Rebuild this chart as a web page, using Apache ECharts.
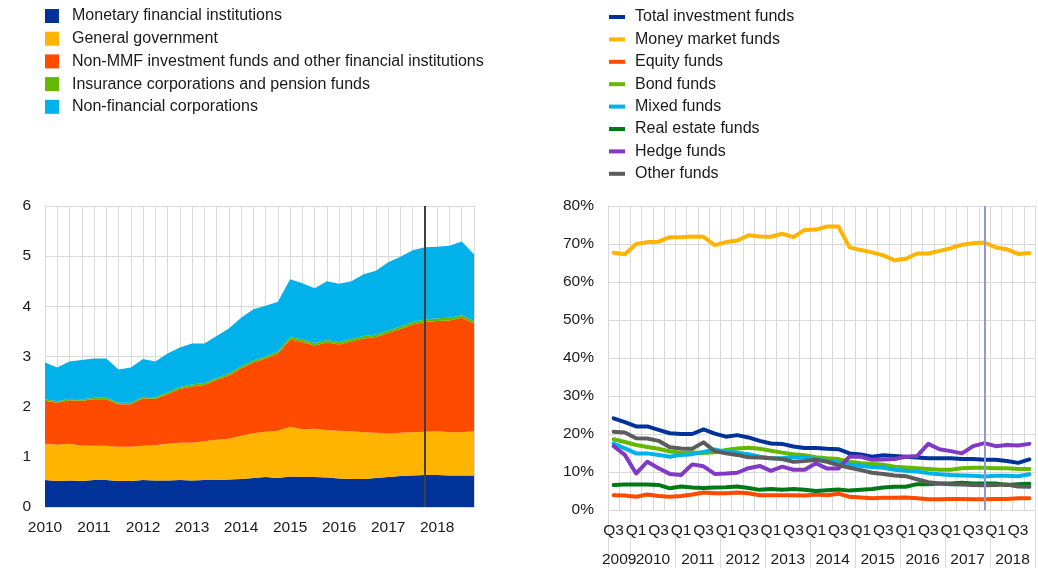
<!DOCTYPE html>
<html>
<head>
<meta charset="utf-8">
<script src="https://cdn.jsdelivr.net/npm/echarts@6/dist/echarts.min.js"></script>
<style>
html,body{margin:0;padding:0;background:#fff;}
#chart{width:1038px;height:568px;}
</style>
</head>
<body>
<div id="chart"></div>
<script>
// ---------- Left chart: holders (EUR trillions) ----------
const leftCategories = [
  '2010 Q1','2010 Q2','2010 Q3','2010 Q4','2011 Q1','2011 Q2','2011 Q3','2011 Q4',
  '2012 Q1','2012 Q2','2012 Q3','2012 Q4','2013 Q1','2013 Q2','2013 Q3','2013 Q4',
  '2014 Q1','2014 Q2','2014 Q3','2014 Q4','2015 Q1','2015 Q2','2015 Q3','2015 Q4',
  '2016 Q1','2016 Q2','2016 Q3','2016 Q4','2017 Q1','2017 Q2','2017 Q3','2017 Q4',
  '2018 Q1','2018 Q2','2018 Q3','2018 Q4'
];
const leftMarker = '2017 Q4';
const mfi = [0.54,0.52,0.53,0.52,0.54,0.54,0.52,0.52,0.54,0.53,0.53,0.54,0.53,0.54,0.54,0.55,0.56,0.58,
             0.60,0.58,0.61,0.60,0.60,0.59,0.57,0.56,0.56,0.58,0.60,0.62,0.63,0.64,0.64,0.63,0.63,0.63];
const gov = [0.72,0.72,0.73,0.70,0.68,0.68,0.68,0.68,0.68,0.70,0.73,0.74,0.75,0.77,0.80,0.81,0.86,0.89,
             0.90,0.94,0.99,0.95,0.96,0.94,0.95,0.95,0.93,0.90,0.86,0.86,0.86,0.86,0.87,0.86,0.86,0.88];
const nonMmf = [0.86,0.84,0.87,0.90,0.93,0.93,0.85,0.85,0.95,0.93,0.99,1.07,1.12,1.12,1.19,1.26,1.34,1.41,
                1.46,1.54,1.74,1.74,1.66,1.75,1.72,1.79,1.87,1.91,2.01,2.07,2.15,2.19,2.20,2.23,2.28,2.15];
const insurance = [0.03,0.03,0.03,0.03,0.03,0.03,0.03,0.03,0.03,0.03,0.03,0.04,0.04,0.04,0.04,0.04,0.04,0.04,
                   0.04,0.04,0.05,0.05,0.05,0.05,0.05,0.05,0.05,0.05,0.05,0.05,0.05,0.05,0.05,0.05,0.05,0.05];
const nfc = [0.73,0.67,0.74,0.78,0.78,0.78,0.66,0.70,0.75,0.71,0.78,0.79,0.82,0.79,0.84,0.90,0.97,1.02,
             1.01,0.99,1.15,1.12,1.09,1.17,1.16,1.15,1.23,1.27,1.36,1.39,1.43,1.44,1.43,1.44,1.47,1.33];
const leftYTicks = [0,1,2,3,4,5,6];

// ---------- Right chart: share held (%) ----------
const rightCategories = [
  '2009 Q3','2009 Q4',
  '2010 Q1','2010 Q2','2010 Q3','2010 Q4','2011 Q1','2011 Q2','2011 Q3','2011 Q4',
  '2012 Q1','2012 Q2','2012 Q3','2012 Q4','2013 Q1','2013 Q2','2013 Q3','2013 Q4',
  '2014 Q1','2014 Q2','2014 Q3','2014 Q4','2015 Q1','2015 Q2','2015 Q3','2015 Q4',
  '2016 Q1','2016 Q2','2016 Q3','2016 Q4','2017 Q1','2017 Q2','2017 Q3','2017 Q4',
  '2018 Q1','2018 Q2','2018 Q3','2018 Q4'
];
const rightMarker = '2017 Q4';
const yearLabels = ['2009','2010','2011','2012','2013','2014','2015','2016','2017','2018'];
const yearCenters = [1,4,8,12,16,20,24,28,32,36];   // centre of each year group, in quarters
const totalFunds = [24.1,23.1,22.0,22.0,21.1,20.2,20.0,20.0,21.2,20.1,19.3,19.7,19.1,18.2,17.5,17.4,16.7,16.3,16.3,
                    16.1,16.0,14.9,14.6,14.0,14.4,14.2,14.0,13.8,13.6,13.6,13.6,13.4,13.4,13.2,13.2,12.9,12.4,13.3];
const mmf = [67.7,67.3,70.0,70.5,70.6,71.8,71.8,72.0,71.9,69.7,70.5,70.9,72.3,72.0,71.9,72.7,71.8,73.7,73.8,
             74.6,74.6,69.1,68.4,67.8,67.0,65.7,66.1,67.5,67.5,68.2,68.9,69.8,70.2,70.4,69.1,68.6,67.4,67.6];
const equity = [3.9,3.8,3.5,4.1,3.7,3.5,3.7,4.1,4.6,4.4,4.4,4.6,4.4,3.9,3.9,3.9,3.9,3.8,4.1,
                3.9,4.3,3.5,3.3,3.1,3.2,3.2,3.3,3.1,2.8,2.8,2.9,2.9,2.8,2.8,2.9,2.9,3.1,3.1];
const bond = [18.6,17.9,17.1,16.6,16.1,15.4,15.1,15.1,15.0,15.2,15.8,16.2,16.4,16.1,15.6,15.1,14.7,14.4,13.9,
              13.6,13.4,12.7,12.3,12.1,11.9,11.4,11.2,11.0,10.8,10.6,10.6,11.0,11.1,11.1,11.0,11.0,10.8,10.8];
const mixed = [17.5,16.2,14.9,14.9,14.5,14.0,14.5,14.7,15.3,15.9,15.3,15.1,14.7,14.0,13.6,13.6,14.0,13.9,13.4,
               12.9,12.5,12.0,11.6,11.3,11.1,10.6,10.3,10.1,9.7,9.4,9.2,9.1,9.0,8.8,9.0,9.0,8.9,9.4];
const realEstate = [6.6,6.7,6.7,6.7,6.6,5.7,6.2,5.9,5.8,5.9,6.0,6.2,5.8,5.3,5.5,5.3,5.5,5.3,5.0,
                    5.2,5.4,5.1,5.3,5.5,5.9,6.1,6.1,6.8,6.8,7.0,7.0,7.2,7.0,7.0,7.0,6.6,6.8,6.9];
const hedge = [16.8,14.5,9.6,12.7,11.0,9.5,9.2,12.0,11.5,9.5,9.6,9.8,11.0,11.6,10.3,11.4,10.6,10.6,12.3,
               10.9,10.9,14.1,14.0,13.2,13.3,13.4,14.0,14.2,17.4,16.0,15.5,14.9,16.8,17.6,16.8,17.1,17.0,17.4];
const other = [20.6,20.4,18.9,18.8,18.2,16.5,16.2,16.1,17.8,15.5,14.9,14.5,13.9,13.8,13.6,13.4,12.7,12.9,13.2,
               12.7,11.8,11.1,10.5,9.8,9.5,9.1,8.9,8.1,7.3,7.0,6.8,6.7,6.6,6.5,6.6,6.7,6.2,6.1];

// ---------- Styles ----------
const FONT = "'Liberation Sans', Arial, sans-serif";
const TXT = '#1a1a1a';
const GRIDC = '#d9d9d9';
const AX_FS = 15.5;
const LG_FS = 16;
const C = {
  mfi:'#003299', gov:'#FFB400', nonmmf:'#FF4B00', ins:'#65B800', nfc:'#00B1EA',
  total:'#003299', mmf:'#FFB400', equity:'#FF4B00', bond:'#65B800', mixed:'#00B1EA',
  re:'#007816', hedge:'#8139C6', other:'#5C5C5C'
};

function area(name, data, color, extra) {
  return Object.assign({
    name, type:'line', stack:'holders', data,
    xAxisIndex:0, yAxisIndex:0,
    showSymbol:false, symbol:'none',
    lineStyle:{width:0, color}, itemStyle:{color},
    areaStyle:{color, opacity:1}, silent:true
  }, extra || {});
}
function line(name, data, color, extra) {
  return Object.assign({
    name, type:'line', data,
    xAxisIndex:1, yAxisIndex:1,
    showSymbol:false, symbol:'none',
    lineStyle:{width:4, color, cap:'round', join:'round'}, itemStyle:{color}, silent:true
  }, extra || {});
}

const chart = echarts.init(document.getElementById('chart'), null, {renderer:'canvas'});
chart.setOption({
  animation:false,
  backgroundColor:'#fff',
  textStyle:{fontFamily:FONT, color:TXT},
  legend:[
    {
      left:45, top:8, orient:'vertical', padding:0,
      itemWidth:14, itemHeight:14, itemGap:6.7, icon:'rect',
      textStyle:{fontSize:LG_FS, fontFamily:FONT, color:TXT, lineHeight:16, padding:[0,0,0,8]},
      data:['Monetary financial institutions','General government',
            'Non-MMF investment funds and other financial institutions',
            'Insurance corporations and pension funds','Non-financial corporations'],
      selectedMode:false
    },
    {
      left:609, top:9, orient:'vertical', padding:0,
      itemWidth:16, itemHeight:4, itemGap:6.4, icon:'rect',
      textStyle:{fontSize:LG_FS, fontFamily:FONT, color:TXT, lineHeight:16, padding:[0,0,0,5]},
      data:['Total investment funds','Money market funds','Equity funds','Bond funds',
            'Mixed funds','Real estate funds','Hedge funds','Other funds'],
      selectedMode:false
    }
  ],
  grid:[
    {left:45, top:206, width:429, height:301, containLabel:false},
    {left:608, top:206, width:427.5, height:304, containLabel:false}
  ],
  xAxis:[
    {
      type:'category', gridIndex:0, data:leftCategories, boundaryGap:false,
      axisLine:{show:true, lineStyle:{color:GRIDC, width:1}},
      axisTick:{show:false},
      axisLabel:{interval:3, margin:13, fontSize:AX_FS, fontFamily:FONT, color:TXT,
                 formatter:v => v.split(' ')[0]},
      splitLine:{show:true, interval:0, lineStyle:{color:GRIDC, width:1}}
    },
    {
      type:'category', gridIndex:1, data:rightCategories, boundaryGap:true,
      axisLine:{show:true, lineStyle:{color:GRIDC, width:1}},
      axisTick:{show:true, length:58, lineStyle:{color:GRIDC, width:1},
                interval:(i) => i === 0 || (i - 2) % 4 === 0},
      axisLabel:{interval:1, margin:13, fontSize:AX_FS, fontFamily:FONT, color:TXT,
                 formatter:v => v.split(' ')[1]},
      splitLine:{show:true, interval:0, lineStyle:{color:GRIDC, width:1}}
    },
    {
      type:'value', gridIndex:1, min:0, max:rightCategories.length, interval:1,
      position:'bottom', offset:28,
      axisLine:{show:false}, axisTick:{show:false}, splitLine:{show:false},
      axisLabel:{margin:14, fontSize:AX_FS, fontFamily:FONT, color:TXT,
                 showMinLabel:true, showMaxLabel:true,
                 formatter:(v) => { const k = yearCenters.indexOf(v); return k >= 0 ? yearLabels[k] : ''; }}
    }
  ],
  yAxis:[
    {
      type:'value', gridIndex:0, min:leftYTicks[0], max:leftYTicks[leftYTicks.length-1], interval:1,
      axisLine:{show:true, lineStyle:{color:GRIDC, width:1}},
      axisTick:{show:false},
      axisLabel:{margin:14, fontSize:AX_FS, fontFamily:FONT, color:TXT},
      splitLine:{show:true, lineStyle:{color:GRIDC, width:1}}
    },
    {
      type:'value', gridIndex:1, min:0, max:80, interval:10,
      axisLine:{show:true, lineStyle:{color:GRIDC, width:1}},
      axisTick:{show:false},
      axisLabel:{margin:14, fontSize:AX_FS, fontFamily:FONT, color:TXT, formatter:'{value}%'},
      splitLine:{show:true, lineStyle:{color:GRIDC, width:1}}
    }
  ],
  series:[
    area('Monetary financial institutions', mfi, C.mfi),
    area('General government', gov, C.gov),
    area('Non-MMF investment funds and other financial institutions', nonMmf, C.nonmmf),
    area('Insurance corporations and pension funds', insurance, C.ins),
    area('Non-financial corporations', nfc, C.nfc, {
      markLine:{silent:true, symbol:'none', label:{show:false},
                lineStyle:{color:'#404040', width:2, type:'solid'},
                data:[{xAxis:leftMarker}]}
    }),
    line('Total investment funds', totalFunds, C.total, {
      markLine:{silent:true, symbol:'none', label:{show:false},
                lineStyle:{color:'#9398d0', width:2, type:'solid'},
                data:[{xAxis:rightMarker}]}
    }),
    line('Money market funds', mmf, C.mmf),
    line('Equity funds', equity, C.equity),
    line('Bond funds', bond, C.bond),
    line('Mixed funds', mixed, C.mixed),
    line('Real estate funds', realEstate, C.re),
    line('Hedge funds', hedge, C.hedge),
    line('Other funds', other, C.other)
  ]
});
</script>
</body>
</html>
